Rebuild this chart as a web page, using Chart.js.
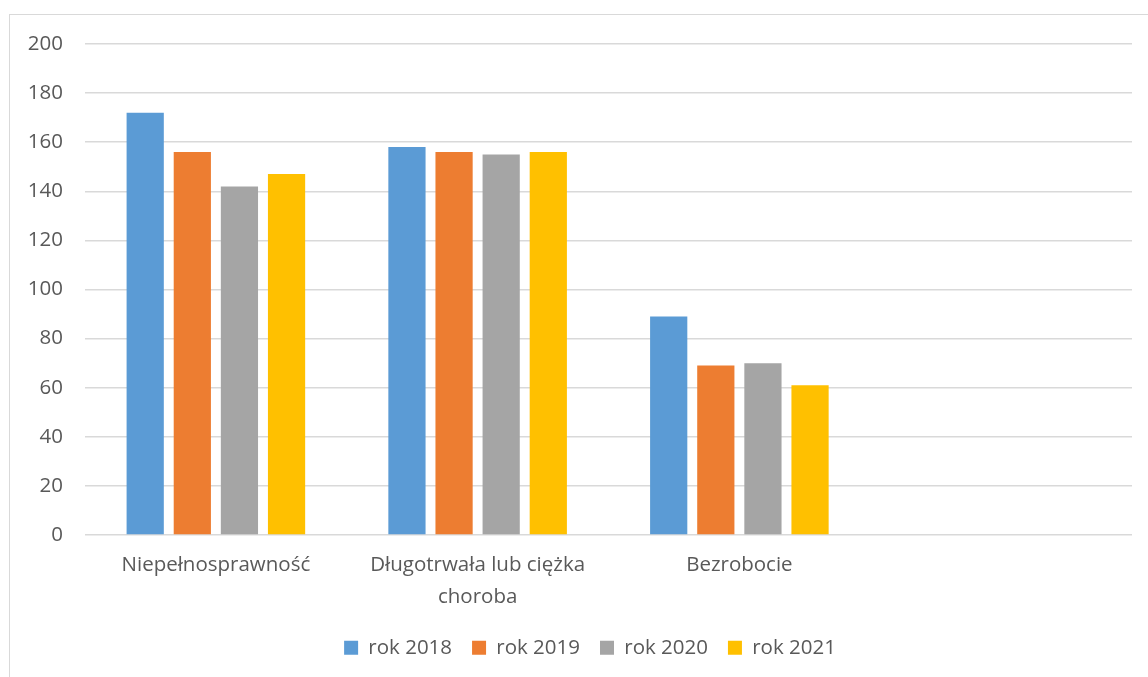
<!DOCTYPE html>
<html>
<head>
<meta charset="utf-8">
<script src="https://cdn.jsdelivr.net/npm/chart.js@4/dist/chart.umd.min.js"></script>
<style>
    html, body { margin: 0; padding: 0; background: #fff; overflow: hidden; }
    .ramka {
        position: absolute; left: 9px; top: 14px; width: 1200px; height: 700px;
        border: 1px solid #d9d9d9; box-sizing: border-box;
    }
    .wykres { position: absolute; left: 0; top: 0; width: 1148px; height: 677px; }
</style>
</head>
<body>
<div class="ramka"></div>
<div class="wykres"><canvas id="wykres" width="1148" height="677"></canvas></div>
<script>
// kategorie (ostatnia pusta - tak jak w arkuszu)
const kategorie = ['Niepełnosprawność', ['Długotrwała lub ciężka', 'choroba'], 'Bezrobocie', ''];

const rok2018 = [172, 158, 89, null];
const rok2019 = [156, 156, 69, null];
const rok2020 = [142, 155, 70, null];
const rok2021 = [147, 156, 61, null];

const osY = [0, 20, 40, 60, 80, 100, 120, 140, 160, 180, 200];

const czcionka = { family: "'Open Sans', 'Noto Sans', sans-serif", size: 20.5 };
const kolorTekstu = '#595959';

const seria = (nazwa, dane, kolor) => ({
    label: nazwa,
    data: dane,
    backgroundColor: kolor,
    borderWidth: 0,
    categoryPercentage: 0.72,
    barPercentage: 0.79
});

// legenda w oryginale jest troche przesunieta w prawo
const przesunLegende = {
    id: 'przesunLegende',
    afterLayout: (chart) => { chart.legend.left += 48; }
};

new Chart(document.getElementById('wykres'), {
    type: 'bar',
    data: {
        labels: kategorie,
        datasets: [
            seria('rok 2018', rok2018, '#5B9BD5'),
            seria('rok 2019', rok2019, '#ED7D31'),
            seria('rok 2020', rok2020, '#A5A5A5'),
            seria('rok 2021', rok2021, '#FFC000')
        ]
    },
    plugins: [przesunLegende],
    options: {
        responsive: false,
        animation: false,
        layout: { padding: { top: 44, right: 16, left: 0, bottom: 9 } },
        plugins: {
            tooltip: { enabled: false },
            legend: {
                position: 'bottom',
                labels: {
                    font: czcionka,
                    color: kolorTekstu,
                    boxWidth: 14,
                    boxHeight: 14,
                    padding: 20
                }
            }
        },
        scales: {
            x: {
                grid: { display: false },
                border: { display: false },
                ticks: {
                    font: { ...czcionka, lineHeight: 1.55 },
                    color: kolorTekstu,
                    maxRotation: 0,
                    autoSkip: false,
                    padding: 6
                },
                afterFit: (skala) => { skala.height = 82.5; }
            },
            y: {
                min: 0,
                max: 200,
                afterBuildTicks: (skala) => { skala.ticks = osY.map(v => ({ value: v })); },
                grid: { color: '#d9d9d9', lineWidth: 1.5, drawTicks: false },
                border: { display: false },
                ticks: {
                    font: czcionka,
                    color: kolorTekstu,
                    padding: 22
                },
                afterFit: (skala) => { skala.width = 85; }
            }
        }
    }
});
</script>
</body>
</html>
